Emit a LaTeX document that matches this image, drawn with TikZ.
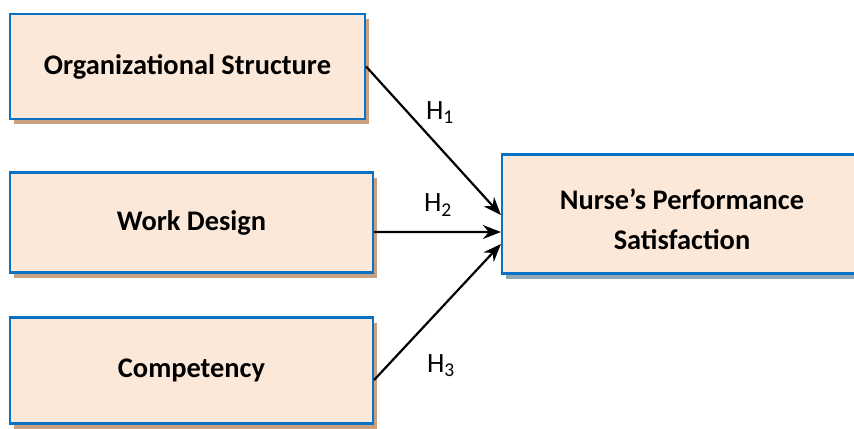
\documentclass[tikz,border=0pt]{standalone}
\usepackage{fontspec}
\setmainfont{Carlito}
\usetikzlibrary{shadows,arrows.meta}
\definecolor{boxfill}{HTML}{FCE8D9}
\definecolor{boxline}{HTML}{0A72C4}
\definecolor{tanshadow}{HTML}{C9A080}
\definecolor{blueshadow}{HTML}{8FA8B2}
\tikzset{
  box/.style={draw=boxline, line width=2.2bp, fill=boxfill, rectangle, inner sep=0pt,
    align=center, font=\fontsize{28.5}{39}\selectfont\bfseries},
  tanbox/.style={box, drop shadow={shadow xshift=4bp, shadow yshift=-5bp, fill=tanshadow, opacity=1}},
  bluebox/.style={box, drop shadow={shadow xshift=4bp, shadow yshift=-5bp, fill=blueshadow, opacity=1}},
  arr/.style={line width=2.2bp, -{Stealth[length=18bp, width=14bp]}},
  hyp/.style={font=\fontsize{28}{32}\selectfont, inner sep=0pt}
}
\begin{document}
\begin{tikzpicture}[x=1bp, y=-1bp]
\useasboundingbox (0,0) rectangle (854,428);
\begin{scope}
\clip (0,0) rectangle (854,428);
\node[tanbox, minimum width=355bp, minimum height=105bp] (org) at (187.5,66.5) {Organizational Structure};
\node[tanbox, minimum width=363bp, minimum height=100bp] (work) at (191.5,222.5) {Work Design};
\node[tanbox, minimum width=363bp, minimum height=106bp] (comp) at (191.5,370.5) {Competency};
\node[bluebox, minimum width=360bp, minimum height=119bp, text depth=0pt] (nurse) at (682,214) {\raisebox{14bp}{\parbox{330bp}{\centering Nurse’s Performance\\[1bp]Satisfaction}}};
\end{scope}
\draw[arr] (org.east) -- ([yshift=-1bp]nurse.west);
\draw[arr] ([yshift=-9.5bp]work.east) -- ([yshift=-18bp]nurse.west);
\draw[arr] ([yshift=-9.5bp]comp.east) -- ([yshift=-30bp]nurse.west);
\node[hyp] (h1) at (440,113) {H\textsubscript{1}};
\node[hyp] (h2) at (438,205) {H\textsubscript{2}};
\node[hyp] (h3) at (441,366) {H\textsubscript{3}};
\end{tikzpicture}
\end{document}
